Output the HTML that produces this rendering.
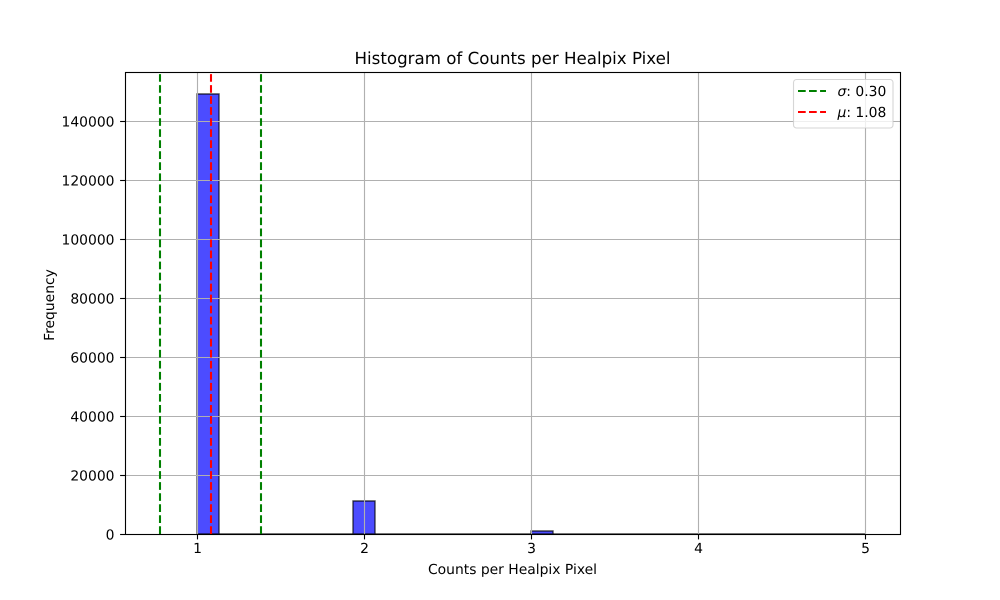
<!DOCTYPE html>
<html lang="en">
<head>
<meta charset="utf-8">
<title>Histogram of Counts per Healpix Pixel</title>
<style>
  html, body { margin: 0; padding: 0; background: #fff; }
  svg { display: block; }
  text { font-family: "DejaVu Sans", "Liberation Sans", sans-serif; fill: #000; text-rendering: geometricPrecision; }
</style>
</head>
<body>
<svg id="chart" width="1000" height="600" viewBox="0 0 1000 600" xmlns="http://www.w3.org/2000/svg">
  <rect x="0" y="0" width="1000" height="600" fill="#ffffff"></rect>
  <text x="512.5" y="64" text-anchor="middle" style="font-size:16.67px">Histogram of Counts per Healpix Pixel</text>
  <text x="512.5" y="574" text-anchor="middle" style="font-size:13.89px">Counts per Healpix Pixel</text>
  <text x="0" y="0" text-anchor="middle" transform="translate(54 305) rotate(-90)" style="font-size:13.89px">Frequency</text>
  <g id="bars"></g>
  <g id="grid"></g>
  <g id="refs"></g>
  <rect x="125.5" y="72.5" width="775" height="462" fill="none" stroke="#000" stroke-width="1.11"></rect>
  <g id="xticks"></g>
  <g id="yticks"></g>
  <g>
    <rect x="793.5" y="79.5" width="99.5" height="48.5" rx="3" ry="3" fill="#ffffff" fill-opacity="0.8" stroke="#cccccc" stroke-opacity="0.8" stroke-width="1.11"></rect>
    <line x1="798" y1="91" x2="826" y2="91" stroke="#008000" stroke-width="2.08" stroke-dasharray="7.7 3.33"></line>
    <text x="837.5" y="96" style="font-size:13.89px"><tspan font-style="italic">σ</tspan>: 0.30</text>
    <line x1="798" y1="112" x2="826" y2="112" stroke="#ff0000" stroke-width="2.08" stroke-dasharray="7.7 3.33"></line>
    <text x="837.5" y="117" style="font-size:13.89px"><tspan font-style="italic">μ</tspan>: 1.08</text>
  </g>
</svg>
<script>
// Chart data
const binCounts = [149100, 0, 0, 0, 0, 0, 0, 11300, 0, 0, 0, 0, 0, 0, 0, 1150, 0, 0, 0, 0, 0, 0, 40, 0, 0, 0, 0, 0, 0, 3];
const xTickValues = [1, 2, 3, 4, 5];
const yTickValues = [0, 20000, 40000, 60000, 80000, 100000, 120000, 140000];
const meanValue = [1.08];
const sigmaValue = [0.303];

// Axis functions
const NS = 'http://www.w3.org/2000/svg';
const PLOT = { left: 125, right: 900, top: 72, bottom: 534 };
const histMin = Math.min(...xTickValues);
const histMax = Math.max(...xTickValues);
function xScale(v) { return 197.2 + (v - 1) * 167; }
function yScale(v) { return 534.4 - v * (413.2 / 140000); }
function make(tag, attrs, parent) {
  const el = document.createElementNS(NS, tag);
  for (const k in attrs) el.setAttribute(k, attrs[k]);
  parent.appendChild(el);
  return el;
}

// Bars: drawn as paths so that empty bins still stroke along the baseline
const barsGroup = document.getElementById('bars');
const binWidth = (histMax - histMin) / binCounts.length;
binCounts.forEach(function (count, i) {
  const x0 = Math.round(xScale(histMin + i * binWidth));
  const x1 = Math.round(xScale(histMin + (i + 1) * binWidth));
  const y0 = Math.round(yScale(0));
  const y = Math.round(yScale(count));
  const bar = make('path', {
    d: 'M' + x0 + ' ' + y0 + 'V' + y + 'H' + x1 + 'V' + y0 + 'Z',
    fill: '#0000ff', 'fill-opacity': 0.7, stroke: '#000000', 'stroke-opacity': 0.7, 'stroke-width': 1.39
  }, barsGroup);
  
  
});

// Grid
const gridGroup = document.getElementById('grid');
xTickValues.forEach(function (v) {
  const x = Math.round(xScale(v)) + 0.5;
  const line = make('line', { x1: x, x2: x, y1: PLOT.top, y2: PLOT.bottom, stroke: '#b0b0b0', 'stroke-width': 1.11 }, gridGroup);
  
  
});
yTickValues.forEach(function (v) {
  const y = Math.floor(yScale(v)) + 0.5;
  const line = make('line', { x1: PLOT.left, x2: PLOT.right, y1: y, y2: y, stroke: '#b0b0b0', 'stroke-width': 1.11 }, gridGroup);
  
  
});

// Reference lines
const refsGroup = document.getElementById('refs');
function refLine(value, color, name) {
  const x = Math.round(xScale(value));
  const line = make('line', { x1: x, x2: x, y1: PLOT.bottom, y2: PLOT.top, stroke: color, 'stroke-width': 2.08, 'stroke-dasharray': '7.7 3.33' }, refsGroup);
  
  
}
refLine(meanValue[0] - sigmaValue[0], '#008000', 'sigma-lower-line');
refLine(meanValue[0] + sigmaValue[0], '#008000', 'sigma-upper-line');
refLine(meanValue[0], '#ff0000', 'mean-line');

// Ticks
const xTicks = document.getElementById('xticks');
xTickValues.forEach(function (v) {
  const x = Math.round(xScale(v)) + 0.5;
  const mark = make('line', { x1: x, x2: x, y1: 535, y2: 539.4, stroke: '#000', 'stroke-width': 1.11 }, xTicks);
  
  
  const label = make('text', { x: x, y: 553, 'text-anchor': 'middle', style: 'font-size:13.89px' }, xTicks);
  label.textContent = String(v);
  
  
});
const yTicks = document.getElementById('yticks');
yTickValues.forEach(function (v) {
  const y = Math.floor(yScale(v)) + 0.5;
  const mark = make('line', { x1: 125, x2: 120.1, y1: y, y2: y, stroke: '#000', 'stroke-width': 1.11 }, yTicks);
  
  
  const label = make('text', { x: 114.5, y: y + 5, 'text-anchor': 'end', style: 'font-size:13.89px' }, yTicks);
  label.textContent = String(v);
  
  
});
</script>
</body>
</html>
